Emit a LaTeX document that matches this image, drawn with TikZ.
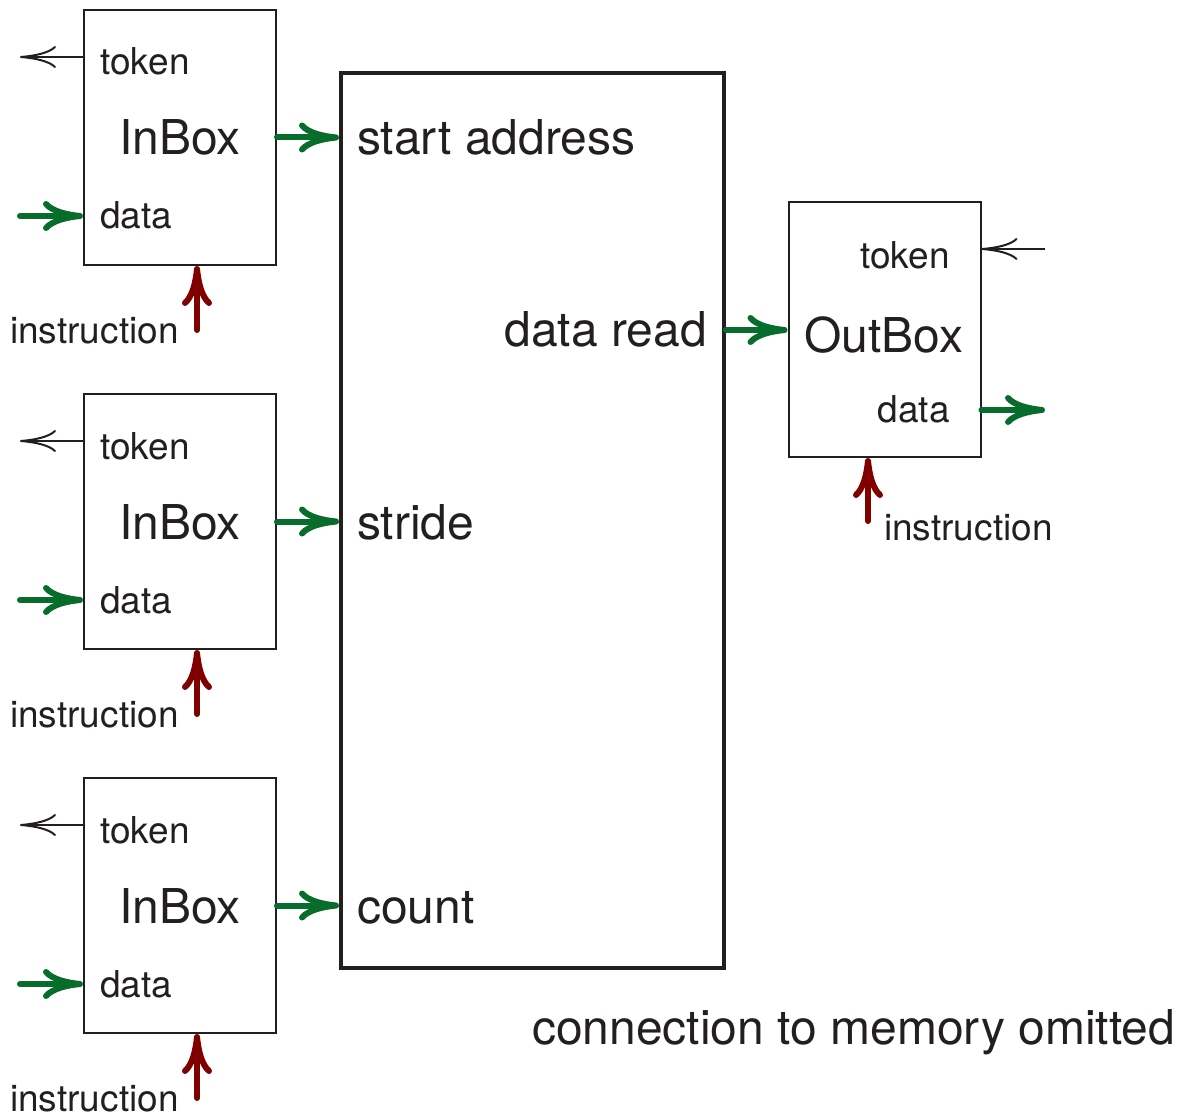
\documentclass[tikz,border=0pt]{standalone}
\usepackage{fontspec}
\setmainfont{TeX Gyre Heros}
\usetikzlibrary{arrows.meta}
\definecolor{datagreen}{RGB}{8,108,44}
\definecolor{instrred}{RGB}{128,0,0}
\definecolor{ink}{RGB}{35,31,32}
\tikzset{
  x=1pt, y=-1pt,
  box/.style={draw=ink, line width=2pt, minimum width=192pt, minimum height=255pt, inner sep=0pt},
  membox/.style={draw=ink, line width=4pt, minimum width=383pt, minimum height=895pt, inner sep=0pt},
  small/.style={inner sep=0pt, text=ink, font=\fontsize{37}{44}\selectfont},
  big/.style={inner sep=0pt, text=ink, font=\fontsize{48}{56}\selectfont},
  tokenarrow/.style={draw=ink, line width=2pt, -{Computer Modern Rightarrow[length=36pt,width=22pt,line width=2pt]}},
  dataarrow/.style={draw=datagreen, line width=6pt, line cap=round, -{Computer Modern Rightarrow[length=40pt,width=30pt,line width=6pt]}},
  instrarrow/.style={draw=instrred, line width=6pt, line cap=round, -{Computer Modern Rightarrow[length=40pt,width=30pt,line width=6pt]}},
}
\begin{document}
\begin{tikzpicture}
\useasboundingbox (0,0) rectangle (1186,1118);

% central memory-access unit
\node[membox] (mem) at (532.5,520.5) {};
\node[big, anchor=base west] (sa) at (357,155) {start address};
\node[big, anchor=base west] (st) at (357,539) {stride};
\node[big, anchor=base west] (ct) at (357,923) {count};
\node[big, anchor=base east] (dr) at (707,346) {data read};

% three input boxes
\foreach \i/\dy in {1/0, 2/384, 3/768} {
  \node[box] (in\i) at (180,137.5+\dy) {};
  \node[small, anchor=base west] (tok\i) at (100,75+\dy) {token};
  \node[small, anchor=base west] (dat\i) at (100,229+\dy) {data};
  \node[big, anchor=base] (lbl\i) at (180,155+\dy) {InBox};
  \node[small, anchor=base west] (ins\i) at (10,343+\dy) {instruction};
  \coordinate (tokout\i) at (20,57+\dy);
  \coordinate (datin\i) at (20,216+\dy);
  \coordinate (insin\i) at (197,330+\dy);
  \draw[tokenarrow] (in\i.west |- tokout\i) -- (tokout\i);
  \draw[dataarrow] (datin\i) -- (in\i.west |- datin\i);
  \draw[instrarrow] (insin\i) -- (in\i.south -| insin\i);
  \draw[dataarrow] (in\i.east) -- (mem.west |- in\i.east);
}

% output box
\node[box] (out) at (884.5,329.5) {};
\node[small, anchor=base east] (otok) at (950,268) {token};
\node[big, anchor=base] (olbl) at (884,352) {OutBox};
\node[small, anchor=base east] (odat) at (950,422) {data};
\node[small, anchor=base west] (oins) at (884,540) {instruction};
\coordinate (otokin) at (1045,249);
\coordinate (odatout) at (1045,410);
\coordinate (oinsin) at (868,521);
\draw[tokenarrow] (otokin) -- (out.east |- otokin);
\draw[dataarrow] (out.east |- odatout) -- (odatout);
\draw[instrarrow] (oinsin) -- (out.south -| oinsin);
\coordinate (drout) at (724,330);
\draw[dataarrow] (mem.east |- drout) -- (out.west |- drout);

\node[big, anchor=base west] (note) at (532,1044) {connection to memory omitted};
\end{tikzpicture}
\end{document}
